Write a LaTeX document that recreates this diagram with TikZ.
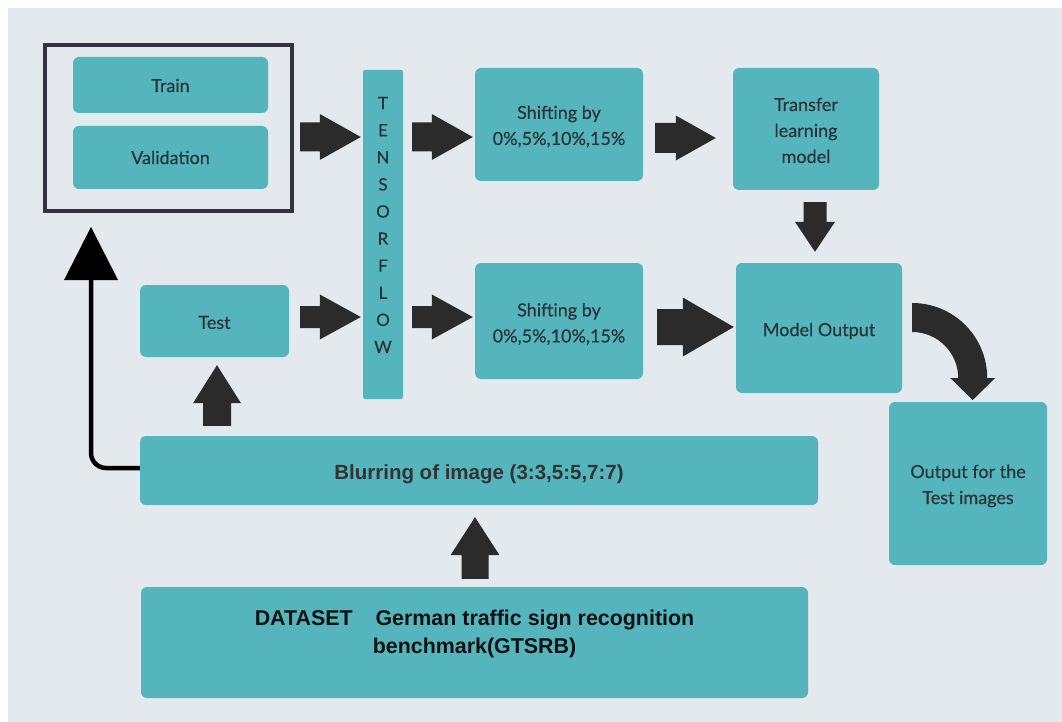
\documentclass[tikz,border=0pt]{standalone}
\usepackage{fontspec}
\setmainfont{Lato}
\newfontfamily\latom{Lato}[FakeBold=0.35]
\newfontfamily\arialf{Liberation Sans}
\usetikzlibrary{calc}
\definecolor{bgc}{HTML}{E4E9ED}
\definecolor{boxc}{HTML}{54B5BC}
\definecolor{txtc}{HTML}{2A3436}
\definecolor{blkc}{HTML}{2B2B2B}
\definecolor{frmc}{HTML}{33343F}
\tikzset{
  box/.style={fill=boxc, rounded corners=6pt, inner sep=0pt},
  btxt/.style={align=center, inner sep=0pt, text=txtc, font=\latom\fontsize{18}{26}\selectfont},
  atxt/.style={align=center, inner sep=0pt, font=\arialf\bfseries\fontsize{20.5}{28}\selectfont},
  blkarrow/.style={fill=blkc},
}
% right-pointing block arrow: start, tip, shaft half, head half, head length
\newcommand\blkR[5]{\fill[blkarrow] let \p1=(#1), \p2=(#2) in
  (\x1,\y1+#3) -- (\x2-#5,\y1+#3) -- (\x2-#5,\y1+#4) -- (\x2,\y1) --
  (\x2-#5,\y1-#4) -- (\x2-#5,\y1-#3) -- (\x1,\y1-#3) -- cycle;}
% upward block arrow: bottom, tip
\newcommand\blkU[5]{\fill[blkarrow] let \p1=(#1), \p2=(#2) in
  (\x1-#3,\y1) -- (\x1-#3,\y2-#5) -- (\x1-#4,\y2-#5) -- (\x1,\y2) --
  (\x1+#4,\y2-#5) -- (\x1+#3,\y2-#5) -- (\x1+#3,\y1) -- cycle;}
% downward block arrow: top, tip
\newcommand\blkD[5]{\fill[blkarrow] let \p1=(#1), \p2=(#2) in
  (\x1-#3,\y1) -- (\x1-#3,\y2+#5) -- (\x1-#4,\y2+#5) -- (\x1,\y2) --
  (\x1+#4,\y2+#5) -- (\x1+#3,\y2+#5) -- (\x1+#3,\y1) -- cycle;}
\begin{document}
\begin{tikzpicture}[x=1pt,y=-1pt]
\useasboundingbox (0,0) rectangle (1062,722);
\fill[white] (0,0) rectangle (1062,722);
\fill[bgc] (8,8) rectangle (1062,722);

% nodes
\node[draw=frmc, line width=4pt, minimum width=247pt, minimum height=165.5pt, inner sep=0pt] (frame) at (168.5,128.25) {};
\node[box, minimum width=195pt, minimum height=56pt,
  label={[btxt,yshift=-0.5pt]center:Train}] (train) at (170.5,85) {};
\node[box, minimum width=195pt, minimum height=63pt,
  label={[btxt]center:Validation}] (valid) at (170.5,157.5) {};
\node[fill=boxc, rounded corners=2pt, minimum width=40pt, minimum height=329pt, inner sep=0pt] (tf) at (383,234.5) {};
\node[text=txtc, align=center, inner sep=0pt, font=\latom\fontsize{17}{27.1}\selectfont] (tftext) at (383,225)
  {T\\E\\N\\S\\O\\R\\F\\L\\O\\W};
\node[box, minimum width=168pt, minimum height=113pt,
  label={[btxt,yshift=-2pt]center:{Shifting by\\0\%,5\%,10\%,15\%}}] (sh1) at (559,124.5) {};
\node[box, minimum width=146pt, minimum height=122pt,
  label={[btxt,yshift=-1.5pt]center:{Transfer\\learning\\model}}] (tl) at (806,129) {};
\node[box, minimum width=149pt, minimum height=72pt,
  label={[btxt,yshift=-1.5pt]center:Test}] (test) at (214.5,321) {};
\node[box, minimum width=168pt, minimum height=116pt,
  label={[btxt,yshift=-3pt]center:{Shifting by\\0\%,5\%,10\%,15\%}}] (sh2) at (559,321) {};
\node[box, minimum width=166pt, minimum height=130pt,
  label={[btxt,yshift=-3pt]center:Model Output}] (mo) at (819,328) {};
\node[box, minimum width=158pt, minimum height=163pt,
  label={[btxt,yshift=-2.5pt]center:{Output for the\\Test images}}] (out) at (968,483.5) {};
\node[box, minimum width=678pt, minimum height=69pt,
  label={[atxt,text=black!80,yshift=-3.5pt]center:{Blurring of image (3:3,5:5,7:7)}}] (blur) at (479,470.5) {};
\node[box, minimum width=667pt, minimum height=111pt] (ds) at (474.5,642.5) {};
\node[atxt, text=black!93, font=\arialf\bfseries\fontsize{21.4}{28}\selectfont]
  (dstext) at ($(ds.center)+(0,-8.5)$)
  {DATASET\hspace{17pt} German traffic sign recognition\\benchmark(GTSRB)};

% block arrows
\blkR{$(frame.east)+(6,8.75)$}{$(tf.west)+(-2,-97.5)$}{14.5pt}{23pt}{41pt}
\blkR{$(tf.east)+(9,-97.5)$}{$(sh1.west)+(-2,12.5)$}{14.5pt}{23pt}{41pt}
\blkR{$(sh1.east)+(12,13.5)$}{$(tl.west)+(-17,9)$}{15pt}{22.5pt}{40pt}
\blkR{$(test.east)+(11,-4)$}{$(tf.west)+(-2,82.5)$}{11pt}{22.5pt}{41pt}
\blkR{$(tf.east)+(9,82.5)$}{$(sh2.west)+(-2,-4)$}{11pt}{22.5pt}{41pt}
\blkR{$(sh2.east)+(14,6)$}{$(mo.west)+(-2,-1)$}{18pt}{29.5pt}{51pt}
\blkD{$(tl.south)+(9,12)$}{$(mo.north)+(-4,-11)$}{11.5pt}{20pt}{30pt}
\blkU{$(test.south |- blur.north)+(2.5,-10)$}{$(test.south)+(2.5,8)$}{14pt}{24pt}{38pt}
\blkU{$(ds.north)+(0.5,-8)$}{$(blur.south)+(-4,12)$}{13.5pt}{24.5pt}{38pt}

% curved arrow
\coordinate (cc) at ($(mo.east)+(10,50)$);
\fill[blkarrow] let \p1=(cc) in (\x1,\y1+75pt) arc[start angle=90,end angle=0,radius=75pt]
  -- (\x1+83pt,\y1) -- (\x1+60.5pt,\y1-22pt) -- (\x1+38pt,\y1) -- (\x1+46pt,\y1)
  arc[start angle=0,end angle=90,radius=46pt] -- cycle;

% feedback line
\coordinate (ltip) at ($(frame.south)+(-77.5,14)$);
\coordinate (lbase) at ($(ltip)+(0,53)$);
\draw[black, line width=4.5pt, rounded corners=15pt] ($(blur.west)+(0,-2.5)$) -| (lbase);
\fill[black] let \p1=(ltip), \p2=(lbase) in (\x2-27pt,\y2) -- (\x1,\y1) -- (\x2+27pt,\y2) -- cycle;
\end{tikzpicture}
\end{document}
